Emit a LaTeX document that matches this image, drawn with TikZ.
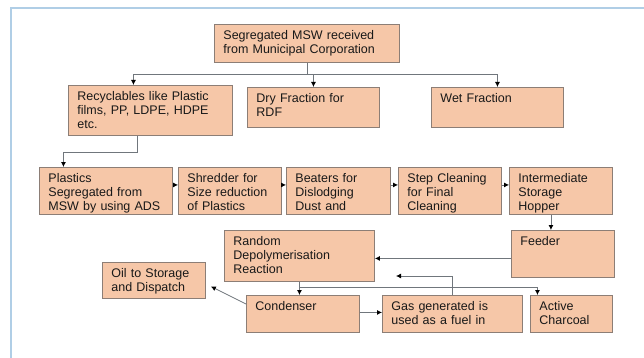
\documentclass[tikz,border=0pt]{standalone}
\usepackage{fontspec}
\setmainfont{Liberation Sans}
\usepackage{xcolor}
\usetikzlibrary{arrows,arrows.meta,positioning,calc}
\definecolor{peach}{RGB}{246,199,168}
\definecolor{boxedge}{RGB}{140,126,118}
\definecolor{wire}{RGB}{112,118,124}
\definecolor{frameblue}{RGB}{176,206,230}
\definecolor{ink}{RGB}{25,25,25}

\begin{document}
\begin{tikzpicture}[x=1pt,y=-1pt]

  \tikzstyle{every node}=[font=\fontsize{12.5}{14}\selectfont]
  \tikzstyle{box}=[draw=boxedge,fill=peach,text=ink,anchor=north west,align=left,inner xsep=9pt,inner ysep=0pt,text height=15.5pt,line width=0.9pt]
  \tikzstyle{link}=[-{Latex[length=5pt,width=5pt,color=black]},draw=wire,line width=0.8pt]
  \useasboundingbox (0,0) rectangle (644,358);
  \fill[white] (0,0) rectangle (644,358);
  \draw[frameblue,line width=1.6pt] (11,358) -- (11,8) -- (644,8);

  % sorting
  \node[box,text width=167pt,text depth=22.5pt] (src) at (214,24) {Segregated MSW received\\from Municipal Corporation};
  \node[box,text width=146pt,text depth=34.5pt] (rec) at (68,85) {Recyclables like Plastic\\films, PP, LDPE, HDPE\\etc.};
  \node[box,text width=114pt,text depth=24.5pt] (dry) at (247,87) {Dry Fraction for\\RDF};
  \node[box,text width=114pt,text depth=24.5pt] (wet) at (431,87) {Wet Fraction};

  % cleaning line
  \node[box,text width=115pt,text depth=31.5pt] (pla) at (39,167) {Plastics\\Segregated from\\MSW by using ADS};
  \node[box,text width=85pt,text depth=31.5pt] (shr) at (178,167) {Shredder for\\Size reduction\\of Plastics};
  \node[box,text width=86pt,text depth=31.5pt] (bea) at (286,167) {Beaters for\\Dislodging\\Dust and};
  \node[box,text width=85pt,text depth=31.5pt] (stp) at (398,167) {Step Cleaning\\for Final\\Cleaning};
  \node[box,text width=85pt,text depth=31.5pt] (inh) at (509,167) {Intermediate\\Storage\\Hopper};

  % reactor
  \node[box,text width=85pt,text depth=31.5pt] (fee) at (511,230) {Feeder};
  \node[box,text width=132pt,text depth=35.5pt] (rdp) at (224,230) {Random\\Depolymerisation\\Reaction};
  \node[box,text width=85pt,text depth=20.5pt] (oil) at (102,262) {Oil to Storage\\and Dispatch};
  \node[box,text width=95pt,text depth=21.5pt] (con) at (246,295) {Condenser};
  \node[box,text width=122pt,text depth=21.5pt] (gas) at (382,295) {Gas generated is\\used as a fuel in};
  \node[box,text width=64pt,text depth=21.5pt] (chr) at (530,295) {Active\\Charcoal};
  \coordinate (gasout) at (396,276);

  \draw[link] (src.south) -- ++(0,12) -| ([xshift=-17pt]rec.north);
  \draw[link] (src.south) ++(0,12) -| (dry.north);
  \draw[link] (src.south) ++(0,12) -| (wet.north);
  \draw[link] ([xshift=-13pt]rec.south) -- ++(0,17) -| ([xshift=-42.5pt]pla.north);

  \foreach \a/\b in {pla/shr,shr/bea,bea/stp,stp/inh}
    \draw[link] ([yshift=6pt]\a.east) -- ([yshift=6pt]\b.west);

  \draw[link] ([xshift=-10pt]inh.south) -- ([xshift=-10pt]inh.south |- fee.north);
  \draw[link] ([yshift=-4.5pt]fee.west) -- ([yshift=-4.5pt]fee.west -| rdp.east);
  \draw[link] (rdp.south) -- (rdp.south |- con.north);
  \draw[link] (rdp.south) ++(0,5) -| ([xshift=-34pt]chr.north);
  \draw[link] (gas.north) |- (gasout);
  \draw[link] ([yshift=1.5pt]con.east) -- ([yshift=1.5pt]con.east -| gas.west);
  \draw[link] ([yshift=-9pt]con.north west) -- ([shift={(5pt,-6pt)}]oil.east);
\end{tikzpicture}
\end{document}
